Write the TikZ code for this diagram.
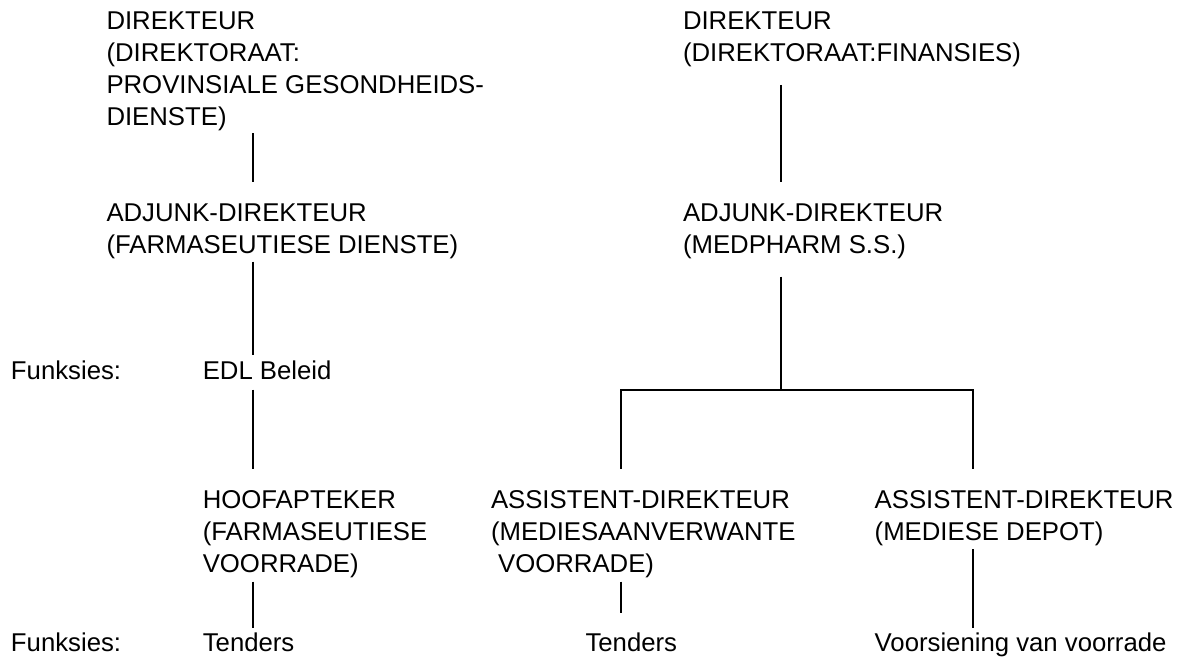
\documentclass[tikz,border=0pt]{standalone}
\usepackage{fontspec}
\setmainfont{Liberation Sans}
\usetikzlibrary{calc}

\tikzset{
  post/.style={anchor=base west,align=left,inner sep=0pt,outer sep=0pt},
  link/.style={line width=1.5pt}
}

\begin{document}
\begin{tikzpicture}[x=0.75pt,y=-0.75pt,font={\fontsize{19.3}{24}\selectfont}]
\useasboundingbox (0,0) rectangle (1186,658);

% spines
\coordinate (spL) at (252.7,0);
\coordinate (spR) at (781,0);
\coordinate (spA) at (620.6,0);
\coordinate (spB) at (972.6,0);

% left branch (nodes placed at the baseline of their last line)
\node[post] (dirL) at (106.5,125.5) {DIREKTEUR\\(DIREKTORAAT:\\PROVINSIALE GESONDHEIDS-\\DIENSTE)};
\node[post] (adjL) at (106.5,253) {ADJUNK-DIREKTEUR\\(FARMASEUTIESE DIENSTE)};
\node[post] (funkA) at (11,379.5) {Funksies:};
\node[post] (edl) at (202.8,379.5) {EDL Beleid};
\node[post] (hoof) at (202.8,572.3) {HOOFAPTEKER\\(FARMASEUTIESE\\VOORRADE)};
\node[post] (funkB) at (11,651.7) {Funksies:};
\node[post] (tendA) at (202.8,651.7) {Tenders};

% right branch
\node[post] (dirR) at (683,61.5) {DIREKTEUR\\(DIREKTORAAT:FINANSIES)};
\node[post] (adjR) at (683,253) {ADJUNK-DIREKTEUR\\(MEDPHARM S.S.)};
\node[post] (asstA) at (491,572.3) {ASSISTENT-DIREKTEUR\\(MEDIESAANVERWANTE\\~VOORRADE)};
\node[post] (asstB) at (874.7,540.3) {ASSISTENT-DIREKTEUR\\(MEDIESE DEPOT)};
\node[post] (tendB) at (585.5,651.7) {Tenders};
\node[post] (voor) at (874.7,651.7) {Voorsiening van voorrade};

% left connectors
\draw[link] ($(dirL.south -| spL)+(0,2.3)$) -- ($(adjL.north -| spL)+(0,-21.8)$);
\draw[link] ($(adjL.south -| spL)+(0,3.3)$) -- ($(edl.north -| spL)+(0,-5.8)$);
\draw[link] ($(edl.south -| spL)+(0,9.8)$) -- ($(hoof.north -| spL)+(0,-21.5)$);
\draw[link] ($(hoof.south -| spL)+(0,4)$) -- ($(tendA.north -| spL)+(0,-4.7)$);

% right connectors
\draw[link] ($(dirR.south -| spR)+(0,18)$) -- ($(adjR.north -| spR)+(0,-21.8)$);
\coordinate (bus) at ($(asstA.north -| spR)+(0,-100.5)$);
\draw[link] ($(adjR.south -| spR)+(0,18.3)$) -- (bus);
\draw[link] ($(asstA.north -| spA)+(0,-21.5)$) -- (bus -| spA) -- (bus -| spB)
  -- ($(asstB.north -| spB)+(0,-21.5)$);
\draw[link] ($(asstA.south -| spA)+(0,4)$) -- ($(tendB.north -| spA)+(0,-20.3)$);
\draw[link] ($(asstB.south -| spB)+(0,3.6)$) -- ($(voor.north -| spB)+(0,-4.7)$);

\end{tikzpicture}
\end{document}
